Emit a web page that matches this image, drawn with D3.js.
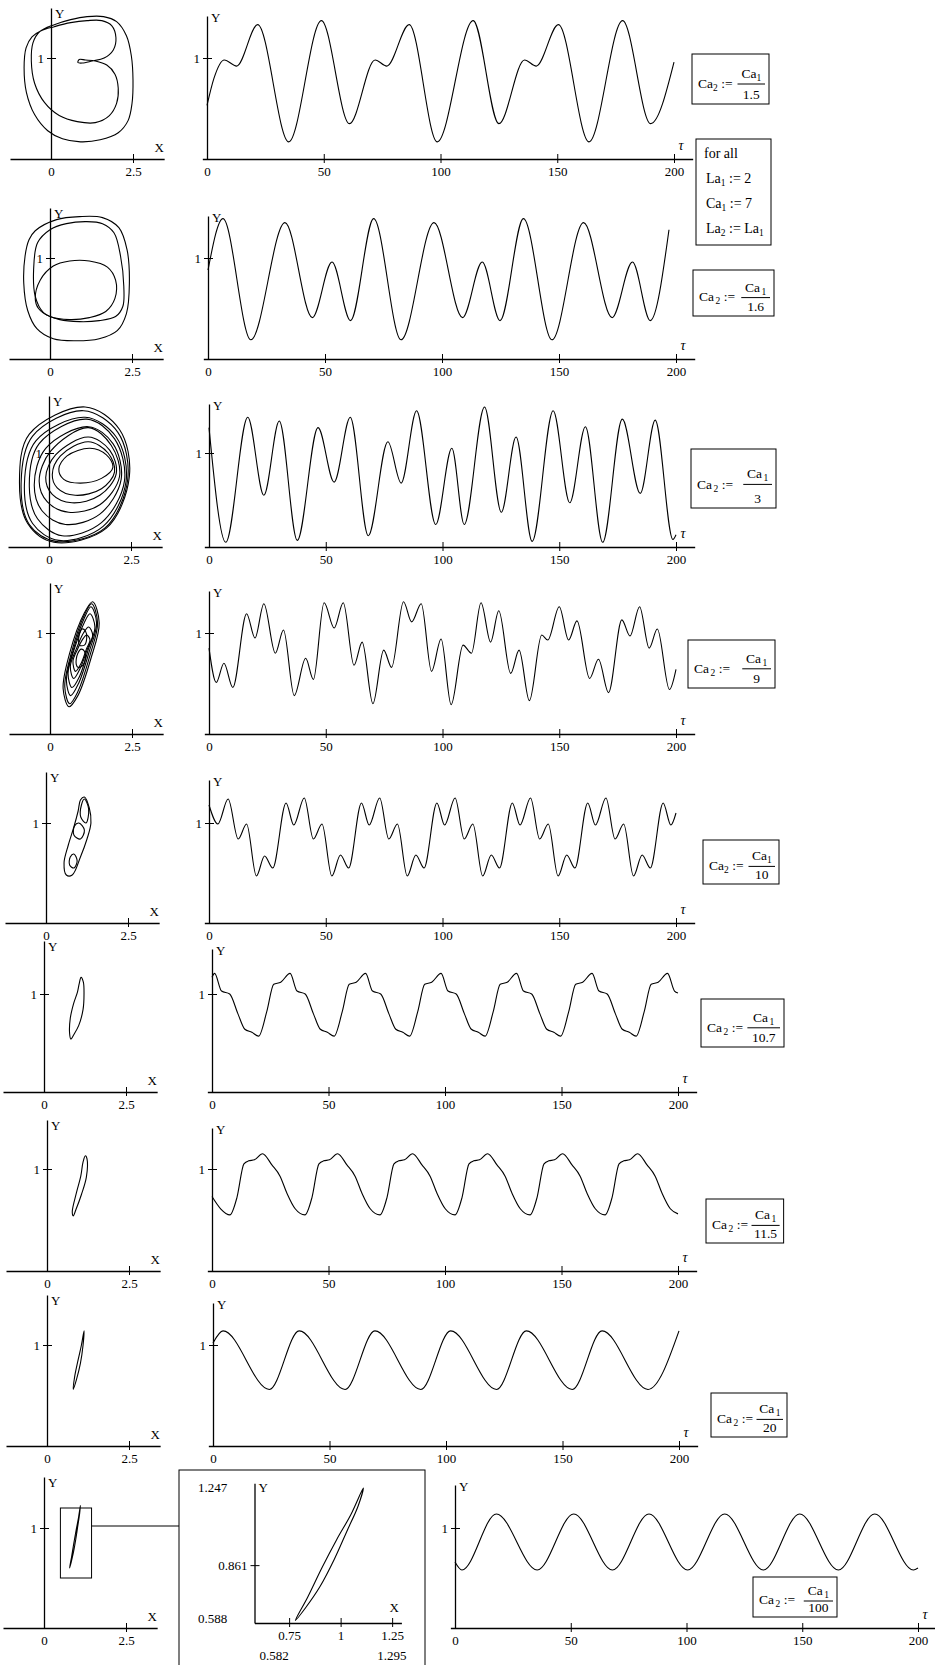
<!DOCTYPE html>
<html lang="en">
<head>
<meta charset="UTF-8">
<title>Phase portraits and Y(τ) for several Ca2</title>
<script src="https://d3js.org/d3.v7.min.js"></script>
<style>
  body { margin: 0; background: #fff; }
  svg { display: block; }
  text { font-family: 'Liberation Serif', 'DejaVu Serif', 'Times New Roman', serif; fill: #000; }
  .trace { stroke: #000; stroke-width: 1.1; fill: none; }
  .box { stroke: #000; stroke-width: 1; fill: none; }
</style>
</head>
<body>
<svg id="chart" width="935" height="1665"></svg>
<script>
// ---- data ----
const caDivisors = ["1.5", "1.6", "3", "9", "10", "10.7", "11.5", "20", "100"];
const timeTicks = [0, 50, 100, 150, 200];
const phaseTicks = [0, 2.5];
const yTicks = [1];
const zoomXTicks = [0.75, 1, 1.25];
const zoomYTicks = [0.861];
const zoomXLimits = [0.582, 1.295];
const zoomYLimits = [0.588, 1.247];
const zoomRect = [[0.5, 0.5], [1.45, 1.2]];
const forAllLines = [["for all"], ["La", "1", " := 2"], ["Ca", "1", " := 7"], ["La", "2", " := La", "1"]];

// Y(tau) traces: [tau, Y]
const seriesY1 = [[0,0.53],[3,0.80],[7.4,0.98],[12.7,0.92],[21.7,1.33],[35,0.17],[49,1.37],[61,0.35],[72,0.98],[77,0.92],[86.6,1.33],[98.6,0.17],[114,1.37],[125,0.35],[136,0.98],[141,0.92],[150.5,1.33],[163.6,0.17],[178,1.37],[190,0.35],[200,0.96]];
const seriesY2 = [[0,0.88],[6.4,1.39],[18.3,0.19],[32.9,1.35],[44.6,0.41],[53,0.96],[60.9,0.38],[70.8,1.39],[82.5,0.19],[96.6,1.35],[108.8,0.41],[117.2,0.96],[124.8,0.38],[134.8,1.39],[147,0.19],[160.5,1.35],[172.7,0.41],[181.4,0.96],[189,0.38],[197,1.28]];
const seriesY3 = [[0,1.27],[7.2,0.05],[16.6,1.38],[23.5,0.55],[30.1,1.34],[37.8,0.07],[46.7,1.27],[53.6,0.69],[60.5,1.38],[68.2,0.12],[76.6,1.12],[82.3,0.68],[88.9,1.45],[97.1,0.24],[104,1.05],[109.3,0.24],[118,1.49],[125.2,0.37],[131.5,1.17],[138.4,0.06],[147.4,1.45],[154.5,0.47],[161.2,1.28],[168.6,0.05],[177,1.36],[184.7,0.57],[191.1,1.35],[198.7,0.08],[200,0.13]];
const seriesY4 = [[0,0.85],[3.1,0.51],[6.4,0.70],[10.2,0.46],[16.1,1.19],[19.7,0.95],[23.5,1.29],[28.4,0.80],[31.9,1.03],[36.5,0.38],[41.4,0.75],[44.7,0.54],[49.3,1.30],[53.6,1.05],[57.5,1.30],[62.1,0.68],[65.6,0.91],[70.2,0.30],[74.8,0.83],[78.2,0.66],[83.3,1.31],[86.8,1.11],[90.9,1.29],[95.3,0.62],[99.4,0.94],[103.7,0.29],[108.8,0.88],[112.4,0.80],[116.5,1.30],[120.6,0.91],[124.1,1.22],[129.2,0.60],[132.8,0.83],[137.2,0.33],[142.5,0.98],[145.1,0.93],[150,1.26],[154,0.93],[157.6,1.12],[163,0.55],[166.8,0.74],[171.1,0.41],[176.8,1.13],[180.3,0.97],[184.4,1.26],[188.5,0.85],[192,1.04],[197.2,0.44],[200,0.64]];
const seriesY5 = [[0,1.18],[3.8,0.99],[8.2,1.24],[12.5,0.84],[16.1,0.99],[20.3,0.47],[23.8,0.67],[27.3,0.55],[33,1.20],[36.3,0.98],[40.8,1.25],[44.7,0.84],[48.4,0.99],[52.6,0.47],[56.3,0.68],[59.8,0.55],[65.3,1.20],[68.6,0.98],[73.1,1.25],[77,0.84],[80.7,0.99],[84.9,0.47],[88.6,0.68],[92.1,0.55],[97.6,1.20],[100.9,0.98],[105.4,1.25],[109.3,0.84],[113,0.99],[117.2,0.47],[120.9,0.68],[124.4,0.55],[129.9,1.20],[133.2,0.98],[137.7,1.25],[141.6,0.84],[145.3,0.99],[149.5,0.47],[153.2,0.68],[156.7,0.55],[162.2,1.20],[165.5,0.98],[170,1.25],[173.9,0.84],[177.6,0.99],[181.8,0.47],[185.5,0.68],[189,0.55],[194.5,1.20],[197.8,0.98],[200,1.10]];
const seriesY6 = [[0,1.17],[1.1,1.21],[4.1,1.03],[7.6,1.00],[11.1,0.80],[14.1,0.64],[17.1,0.61],[20,0.57],
  [23.5,0.82],[26.5,1.10],[29.5,1.12],[33.5,1.21],[36.5,1.03],[40,1.00],[43.5,0.80],[46.5,0.64],[49.5,0.61],[52.4,0.57],
  [55.9,0.82],[58.9,1.10],[61.9,1.12],[65.9,1.21],[68.9,1.03],[72.4,1.00],[75.9,0.80],[78.9,0.64],[81.9,0.61],[84.8,0.57],
  [88.3,0.82],[91.3,1.10],[94.3,1.12],[98.3,1.21],[101.3,1.03],[104.8,1.00],[108.3,0.80],[111.3,0.64],[114.3,0.61],[117.2,0.57],
  [120.7,0.82],[123.7,1.10],[126.7,1.12],[130.7,1.21],[133.7,1.03],[137.2,1.00],[140.7,0.80],[143.7,0.64],[146.7,0.61],[149.6,0.57],
  [153.1,0.82],[156.1,1.10],[159.1,1.12],[163.1,1.21],[166.1,1.03],[169.6,1.00],[173.1,0.80],[176.1,0.64],[179.1,0.61],[182,0.57],
  [185.5,0.82],[188.5,1.10],[191.5,1.12],[195.5,1.21],[198.5,1.03],[200,1.01]];
const seriesY7 = [[0,0.73],[3.7,0.61],[7.7,0.55],
  [10.7,0.72],[13.7,1.05],[15.7,1.08],[18.2,1.09],[21.7,1.15],[25.7,1.04],[29.2,0.93],[32.2,0.76],[35.7,0.61],[39.9,0.55],
  [42.9,0.72],[45.9,1.05],[47.9,1.08],[50.4,1.09],[53.9,1.15],[57.9,1.04],[61.4,0.93],[64.4,0.76],[67.9,0.61],[72.1,0.55],
  [75.1,0.72],[78.1,1.05],[80.1,1.08],[82.6,1.09],[86.1,1.15],[90.1,1.04],[93.6,0.93],[96.6,0.76],[100.1,0.61],[104.3,0.55],
  [107.3,0.72],[110.3,1.05],[112.3,1.08],[114.8,1.09],[118.3,1.15],[122.3,1.04],[125.8,0.93],[128.8,0.76],[132.3,0.61],[136.5,0.55],
  [139.5,0.72],[142.5,1.05],[144.5,1.08],[147,1.09],[150.5,1.15],[154.5,1.04],[158,0.93],[161,0.76],[164.5,0.61],[168.7,0.55],
  [171.7,0.72],[174.7,1.05],[176.7,1.08],[179.2,1.09],[182.7,1.15],[186.7,1.04],[190.2,0.93],[193.2,0.76],[196.7,0.61],[200,0.56]];
const seriesY8 = [[0,1.02],[4.3,1.14],[24.2,0.56],[37,1.14],[56.7,0.56],[69.5,1.14],[89.2,0.56],[102,1.14],[121.7,0.56],[134.5,1.14],[154.2,0.56],[167,1.14],[186.7,0.56],[200,1.14]];
const seriesY9 = [[0,0.66],[3,0.58],[17.9,1.14],[35.5,0.58],[51.3,1.14],[68,0.58],[83.8,1.14],[100.5,0.58],[116.5,1.14],[133.2,0.58],[148.9,1.14],[165.6,0.58],[181.3,1.14],[198,0.58],[200,0.6]];

// phase portraits: closed loops of [X, Y]
const phase1Loops = [[
  [-0.35,1.26],[0.1,1.33],[0.6,1.38],[1.1,1.41],[1.6,1.41],[2.0,1.36],[2.3,1.22],[2.45,1.02],[2.5,0.78],[2.47,0.55],[2.35,0.38],[2.05,0.26],[1.5,0.19],[0.9,0.17],[0.35,0.2],[-0.1,0.28],[-0.5,0.44],[-0.75,0.66],[-0.82,0.9],[-0.76,1.1],[-0.58,1.21],
  [-0.3,1.27],[0.1,1.31],[0.6,1.35],[1.1,1.37],[1.55,1.37],[1.85,1.32],[1.98,1.2],[1.9,1.08],[1.62,1.0],[1.25,0.97],[0.95,0.95],[0.82,0.955],[0.86,0.985],[1.05,0.98],[1.35,0.97],[1.7,0.93],[1.95,0.84],[2.05,0.7],[2.0,0.55],[1.78,0.43],[1.35,0.36],[0.8,0.37],[0.25,0.43],[-0.2,0.56],[-0.5,0.75],[-0.6,0.97],[-0.55,1.15]
]];
const phase2Loops = [
  [[-0.45,1.27],[0.2,1.38],[0.9,1.41],[1.6,1.40],[2.1,1.3],[2.35,1.08],[2.42,0.75],[2.33,0.45],[2.05,0.28],[1.5,0.2],[0.8,0.18],[0.1,0.2],[-0.4,0.3],[-0.68,0.48],[-0.8,0.75],[-0.76,1.02],[-0.64,1.18]],
  [[-0.38,1.15],[0.0,1.28],[0.5,1.34],[1.1,1.36],[1.6,1.34],[1.95,1.25],[2.15,1.02],[2.25,0.72],[2.22,0.52],[2.0,0.42],[1.5,0.38],[0.9,0.37],[0.3,0.39],[-0.2,0.46],[-0.45,0.62],[-0.5,0.88]],
  [[-0.45,0.6],[-0.3,0.78],[0.1,0.92],[0.6,0.97],[1.2,0.97],[1.75,0.91],[2.0,0.78],[1.98,0.6],[1.7,0.47],[1.2,0.41],[0.6,0.39],[0.0,0.42],[-0.35,0.5]]
];
const phase3Loops = [
  [[-0.9,0.7],[-0.6,1.2],[1.1,1.49],[2.15,1.25],[2.45,0.75],[1.75,0.2],[0.15,0.05],[-0.65,0.25]],
  [[-0.85,0.68],[-0.5,1.18],[1.05,1.45],[2.1,1.22],[2.4,0.72],[1.7,0.2],[0.2,0.06],[-0.6,0.24]],
  [[-0.75,0.66],[-0.4,1.13],[1.1,1.38],[2.05,1.17],[2.35,0.7],[1.65,0.22],[0.3,0.07],[-0.5,0.25]],
  [[-0.6,0.64],[-0.3,1.1],[1.15,1.36],[2.0,1.15],[2.3,0.7],[1.6,0.26],[0.4,0.12],[-0.35,0.3]],
  [[-0.45,0.66],[-0.1,1.05],[1.2,1.28],[1.95,1.1],[2.2,0.72],[1.55,0.35],[0.5,0.24],[-0.2,0.38]],
  [[-0.3,0.7],[0.05,1.02],[1.2,1.27],[1.9,1.08],[2.15,0.75],[1.55,0.45],[0.6,0.37],[-0.05,0.48]],
  [[-0.1,0.74],[0.2,0.98],[1.2,1.17],[1.85,1.03],[2.05,0.78],[1.55,0.55],[0.7,0.47],[0.1,0.56]],
  [[0.1,0.77],[0.35,0.97],[1.2,1.12],[1.8,1.0],[2.0,0.8],[1.6,0.62],[0.8,0.55],[0.25,0.63]],
  [[0.3,0.83],[0.55,0.97],[1.25,1.05],[1.75,0.98],[1.95,0.85],[1.6,0.73],[0.95,0.68],[0.45,0.72]]
];
const phase4Loops = [
  [[0.58,0.27],[0.85,0.38],[1.25,0.75],[1.5,1.1],[1.3,1.31],[1.05,1.2],[0.6,0.8],[0.4,0.45]],
  [[0.6,0.3],[0.85,0.42],[1.22,0.78],[1.45,1.1],[1.27,1.29],[1.05,1.18],[0.65,0.8],[0.45,0.47]],
  [[0.63,0.38],[0.87,0.5],[1.2,0.82],[1.42,1.1],[1.25,1.26],[1.05,1.15],[0.7,0.82],[0.5,0.53]],
  [[0.67,0.46],[0.9,0.57],[1.18,0.85],[1.37,1.06],[1.22,1.19],[1.04,1.1],[0.74,0.84],[0.55,0.6]],
  [[0.72,0.55],[0.92,0.65],[1.15,0.85],[1.3,0.98],[1.18,1.06],[1.02,1.0],[0.8,0.84],[0.62,0.67]],
  [[0.78,0.62],[0.95,0.7],[1.12,0.85],[1.22,0.93],[1.12,0.98],[0.98,0.93],[0.84,0.84],[0.7,0.72]],
  [[0.85,0.66],[1.0,0.68],[1.08,0.75],[1.05,0.82],[0.95,0.84],[0.85,0.8],[0.8,0.74],[0.8,0.69]],
  [[0.9,0.88],[1.05,0.88],[1.12,0.95],[1.08,1.02],[0.98,1.04],[0.9,1.0]]
];
const phase5Loops = [
  [[1.17,1.26],[1.32,1.15],[1.37,1.0],[1.25,0.84],[1.05,0.66],[0.8,0.48],[0.62,0.48],[0.55,0.6],[0.68,0.78],[0.85,0.96],[0.98,1.12],[1.05,1.23]],
  [[1.17,1.24],[1.3,1.14],[1.22,1.0],[1.06,1.06],[1.08,1.18]],
  [[1.0,1.0],[1.17,0.93],[1.05,0.84],[0.85,0.88],[0.87,0.97]],
  [[0.85,0.69],[0.95,0.62],[0.85,0.55],[0.72,0.58],[0.74,0.66]]
];
const phase6Loops = [[[1.13,1.17],[1.2,1.12],[1.22,1.0],[1.19,0.84],[1.06,0.68],[0.9,0.58],[0.82,0.54],[0.78,0.6],[0.8,0.75],[0.9,0.9],[1.02,1.02],[1.07,1.1]]];
const phase7Loops = [[[1.17,1.13],[1.22,1.1],[1.2,0.92],[1.05,0.75],[0.88,0.6],[0.8,0.54],[0.77,0.58],[0.9,0.77],[1.03,0.93],[1.1,1.07]]];
const phase8Loops = [[[1.13,1.14],[1.1,1.0],[1.02,0.82],[0.9,0.66],[0.8,0.56],[0.84,0.68],[0.94,0.84],[1.05,1.0]]];
const phase9Loops = [[[0.78,0.6],[0.84,0.71],[0.91,0.85],[0.98,0.98],[1.05,1.1],[1.11,1.225],[1.085,1.14],[1.03,1.02],[0.97,0.89],[0.9,0.76],[0.83,0.66]]];

const seriesList = [seriesY1, seriesY2, seriesY3, seriesY4, seriesY5, seriesY6, seriesY7, seriesY8, seriesY9];
const phaseList = [phase1Loops, phase2Loops, phase3Loops, phase4Loops, phase5Loops, phase6Loops, phase7Loops, phase8Loops, phase9Loops];

// ---- layout (pixel positions of each row) ----
const rows = [
  {phX: 51, one: 58,   zero: 159,  tx0: 207, tx200: 674, box: {x: 692, y: 54,   w: 77, h: 50}, spaced: false},
  {phX: 50, one: 258,  zero: 359,  tx0: 208, tx200: 676, box: {x: 693, y: 270,  w: 81, h: 46}, spaced: true},
  {phX: 49, one: 453,  zero: 547,  tx0: 209, tx200: 676, box: {x: 691, y: 449,  w: 85, h: 59}, spaced: true},
  {phX: 50, one: 633,  zero: 734,  tx0: 209, tx200: 676, box: {x: 688, y: 640,  w: 87, h: 48}, spaced: true},
  {phX: 46, one: 823,  zero: 923,  tx0: 209, tx200: 676, box: {x: 703, y: 840,  w: 76, h: 44}, spaced: false},
  {phX: 44, one: 994,  zero: 1092, tx0: 212, tx200: 678, box: {x: 701, y: 999,  w: 83, h: 48}, spaced: true},
  {phX: 47, one: 1169, zero: 1271, tx0: 212, tx200: 678, box: {x: 706, y: 1199, w: 74, h: 44}, spaced: true},
  {phX: 47, one: 1345, zero: 1446, tx0: 213, tx200: 679, box: {x: 711, y: 1393, w: 76, h: 44}, spaced: true},
  {phX: 44, one: 1528, zero: 1628, tx0: 455, tx200: 918, box: {x: 753, y: 1577, w: 84, h: 40}, spaced: true}
];
const PX_PER_X = 32.8;
const PHASE_TOP_PX = 151;
const TIME_TOP_PX = 143;

const svg = d3.select("#chart");
const FONT = "'Liberation Serif', 'DejaVu Serif', 'Times New Roman', serif";

function styleAxis(g, horizontal) {
  g.attr("font-family", FONT).attr("font-size", 13);
  g.select(".domain").attr("stroke-width", 1.3);
  if (horizontal) {
    g.selectAll(".tick line").attr("y1", -5).attr("y2", 4);
  } else {
    g.selectAll(".tick line").attr("x1", -4).attr("x2", 5);
  }
}

function drawAxes(x, y, zeroX, zeroY, xTicks, yTop) {
  const gx = svg.append("g").attr("transform", `translate(0,${zeroY})`)
    .call(d3.axisBottom(x).tickValues(xTicks).tickSizeInner(4).tickSizeOuter(0).tickPadding(3.5).tickFormat(d => String(d)));
  styleAxis(gx, true);
  gx.selectAll(".tick").filter(d => d === 0).select("line").remove();

  const yAxisScale = y.copy().domain([0, yTop]).range([y(0), y(yTop)]);
  const gy = svg.append("g").attr("transform", `translate(${zeroX},0)`)
    .call(d3.axisLeft(yAxisScale).tickValues(yTicks).tickSizeInner(4).tickSizeOuter(0).tickPadding(3).tickFormat(d => String(d)));
  styleAxis(gy, false);
}

function drawPhase(r, loops) {
  const x = d3.scaleLinear().domain([-1.25, 3.45]).range([r.phX - 1.25 * PX_PER_X, r.phX + 3.45 * PX_PER_X]);
  const y = d3.scaleLinear().domain([0, 1]).range([r.zero, r.one]);
  const top = PHASE_TOP_PX / (r.zero - r.one);
  drawAxes(x, y, x(0), r.zero, phaseTicks, top);
  svg.append("text").attr("x", x(0) + 4).attr("y", y(top) + 10).attr("font-size", 13).text("Y");
  svg.append("text").attr("x", x(3.3)).attr("y", r.zero - 7).attr("font-size", 13).attr("text-anchor", "middle").text("X");
  const line = d3.line().x(d => x(d[0])).y(d => y(d[1])).curve(d3.curveCatmullRomClosed.alpha(0.5));
  svg.append("g").selectAll("path").data(loops).join("path").attr("class", "trace").attr("d", line);
}

function drawSeries(r, data) {
  const pxPerTau = (r.tx200 - r.tx0) / 200;
  const x = d3.scaleLinear().domain([-2, 208]).range([r.tx0 - 2 * pxPerTau, r.tx0 + 208 * pxPerTau]);
  const y = d3.scaleLinear().domain([0, 1]).range([r.zero, r.one]);
  const top = TIME_TOP_PX / (r.zero - r.one);
  drawAxes(x, y, x(0), r.zero, timeTicks, top);
  svg.append("text").attr("x", x(0) + 4).attr("y", y(top) + 6).attr("font-size", 13).text("Y");
  svg.append("text").attr("x", x(200) + 7).attr("y", r.zero - 9).attr("font-size", 14)
    .attr("font-style", "italic").attr("text-anchor", "middle").text("τ");
  const line = d3.line().x(d => x(d[0])).y(d => y(d[1])).curve(d3.curveMonotoneX);
  svg.append("path").datum(data).attr("class", "trace").attr("d", line);
}

// text with subscripts: parts alternate normal / subscript
function richText(sel, parts, gap) {
  parts.forEach((p, i) => {
    const t = sel.append("tspan").text(p);
    if (i % 2 === 1) t.attr("font-size", 9.5).attr("dy", 3).attr("dx", gap ? 1.5 : 0);
    else if (i > 0) t.attr("dy", -3);
  });
  return sel;
}

function drawBox(b, divisor, spaced) {
  const g = svg.append("g").attr("font-size", 13.5);
  const rect = g.append("rect").attr("class", "box").attr("x", b.x).attr("y", b.y).attr("height", b.h);
  const lab = richText(g.append("text").attr("x", b.x + 6).attr("y", b.y + b.h * 0.68), ["Ca", "2", " :="], spaced);
  const labEnd = b.x + 6 + lab.node().getComputedTextLength();
  const ly = b.y + b.h * 0.6;
  const num = richText(g.append("text").attr("y", ly - 6).attr("text-anchor", "middle"), ["Ca", "1"], spaced);
  const den = g.append("text").attr("y", b.y + b.h - 5).attr("text-anchor", "middle").text(divisor);
  const fw = Math.max(num.node().getComputedTextLength(), den.node().getComputedTextLength()) + 5;
  const w = Math.max(b.w, labEnd + 5 + fw + 4 - b.x);
  rect.attr("width", w);
  const fx2 = b.x + w - 4, fx1 = Math.max(labEnd + 5, fx2 - fw - 4), cx = (fx1 + fx2) / 2;
  num.attr("x", cx);
  den.attr("x", cx);
  g.append("line").attr("x1", fx1).attr("x2", fx2).attr("y1", ly).attr("y2", ly).attr("stroke", "#000");
}

rows.forEach((r, i) => {
  drawPhase(r, phaseList[i]);
  drawSeries(r, seriesList[i]);
  drawBox(r.box, caDivisors[i], r.spaced);
});

// ---- "for all" box ----
const forAll = svg.append("g").attr("font-size", 14);
forAll.append("rect").attr("class", "box").attr("x", 696).attr("y", 139).attr("width", 75).attr("height", 106);
forAllLines.forEach((parts, i) => {
  richText(forAll.append("text").attr("x", i === 0 ? 704 : 706).attr("y", 158 + i * 25), parts, false);
});

// ---- zoom window for the last row ----
const r9 = rows[8];
const px9 = d3.scaleLinear().domain([0, 1]).range([r9.phX, r9.phX + PX_PER_X]);
const py9 = d3.scaleLinear().domain([0, 1]).range([r9.zero, r9.one]);
svg.append("rect").attr("class", "box")
  .attr("x", px9(zoomRect[0][0])).attr("y", py9(zoomRect[1][1]))
  .attr("width", px9(zoomRect[1][0]) - px9(zoomRect[0][0]))
  .attr("height", py9(zoomRect[0][1]) - py9(zoomRect[1][1]));
svg.append("line").attr("stroke", "#000").attr("stroke-width", 1.2)
  .attr("x1", px9(zoomRect[1][0])).attr("x2", 179).attr("y1", py9(1.02)).attr("y2", py9(1.02));
svg.append("rect").attr("class", "box").attr("x", 179).attr("y", 1470).attr("width", 246).attr("height", 210);

const zx = d3.scaleLinear().domain(zoomXLimits).range([254.5, 401.4]);
const zy = d3.scaleLinear().domain(zoomYLimits).range([1623, 1483.3]);
const gzx = svg.append("g").attr("transform", `translate(0,${zy(zoomYLimits[0])})`)
  .call(d3.axisBottom(zx).tickValues(zoomXTicks).tickSizeInner(4).tickSizeOuter(0).tickPadding(4).tickFormat(d => String(d)));
styleAxis(gzx, true);
const gzy = svg.append("g").attr("transform", `translate(${zx(zoomXLimits[0])},0)`)
  .call(d3.axisLeft(zy).tickValues(zoomYTicks).tickSizeInner(4).tickSizeOuter(0).tickPadding(3).tickFormat(d => String(d)));
styleAxis(gzy, false);
const zLabels = svg.append("g").attr("font-size", 13);
zLabels.append("text").attr("x", 198).attr("y", 1492).text(String(zoomYLimits[1]));
zLabels.append("text").attr("x", 198).attr("y", 1623).text(String(zoomYLimits[0]));
zLabels.append("text").attr("x", zx(zoomXLimits[0]) + 5).attr("y", 1660).text(String(zoomXLimits[0]));
zLabels.append("text").attr("x", zx(zoomXLimits[1]) + 5).attr("y", 1660).attr("text-anchor", "end").text(String(zoomXLimits[1]));
zLabels.append("text").attr("x", zx(zoomXLimits[0]) + 4).attr("y", 1492).text("Y");
zLabels.append("text").attr("x", zx(1.25) + 2).attr("y", 1612).attr("text-anchor", "middle").text("X");
const zline = d3.line().x(d => zx(d[0])).y(d => zy(d[1])).curve(d3.curveCatmullRomClosed.alpha(0.5));
svg.append("path").datum(phase9Loops[0]).attr("class", "trace").attr("d", zline);
</script>
</body>
</html>
